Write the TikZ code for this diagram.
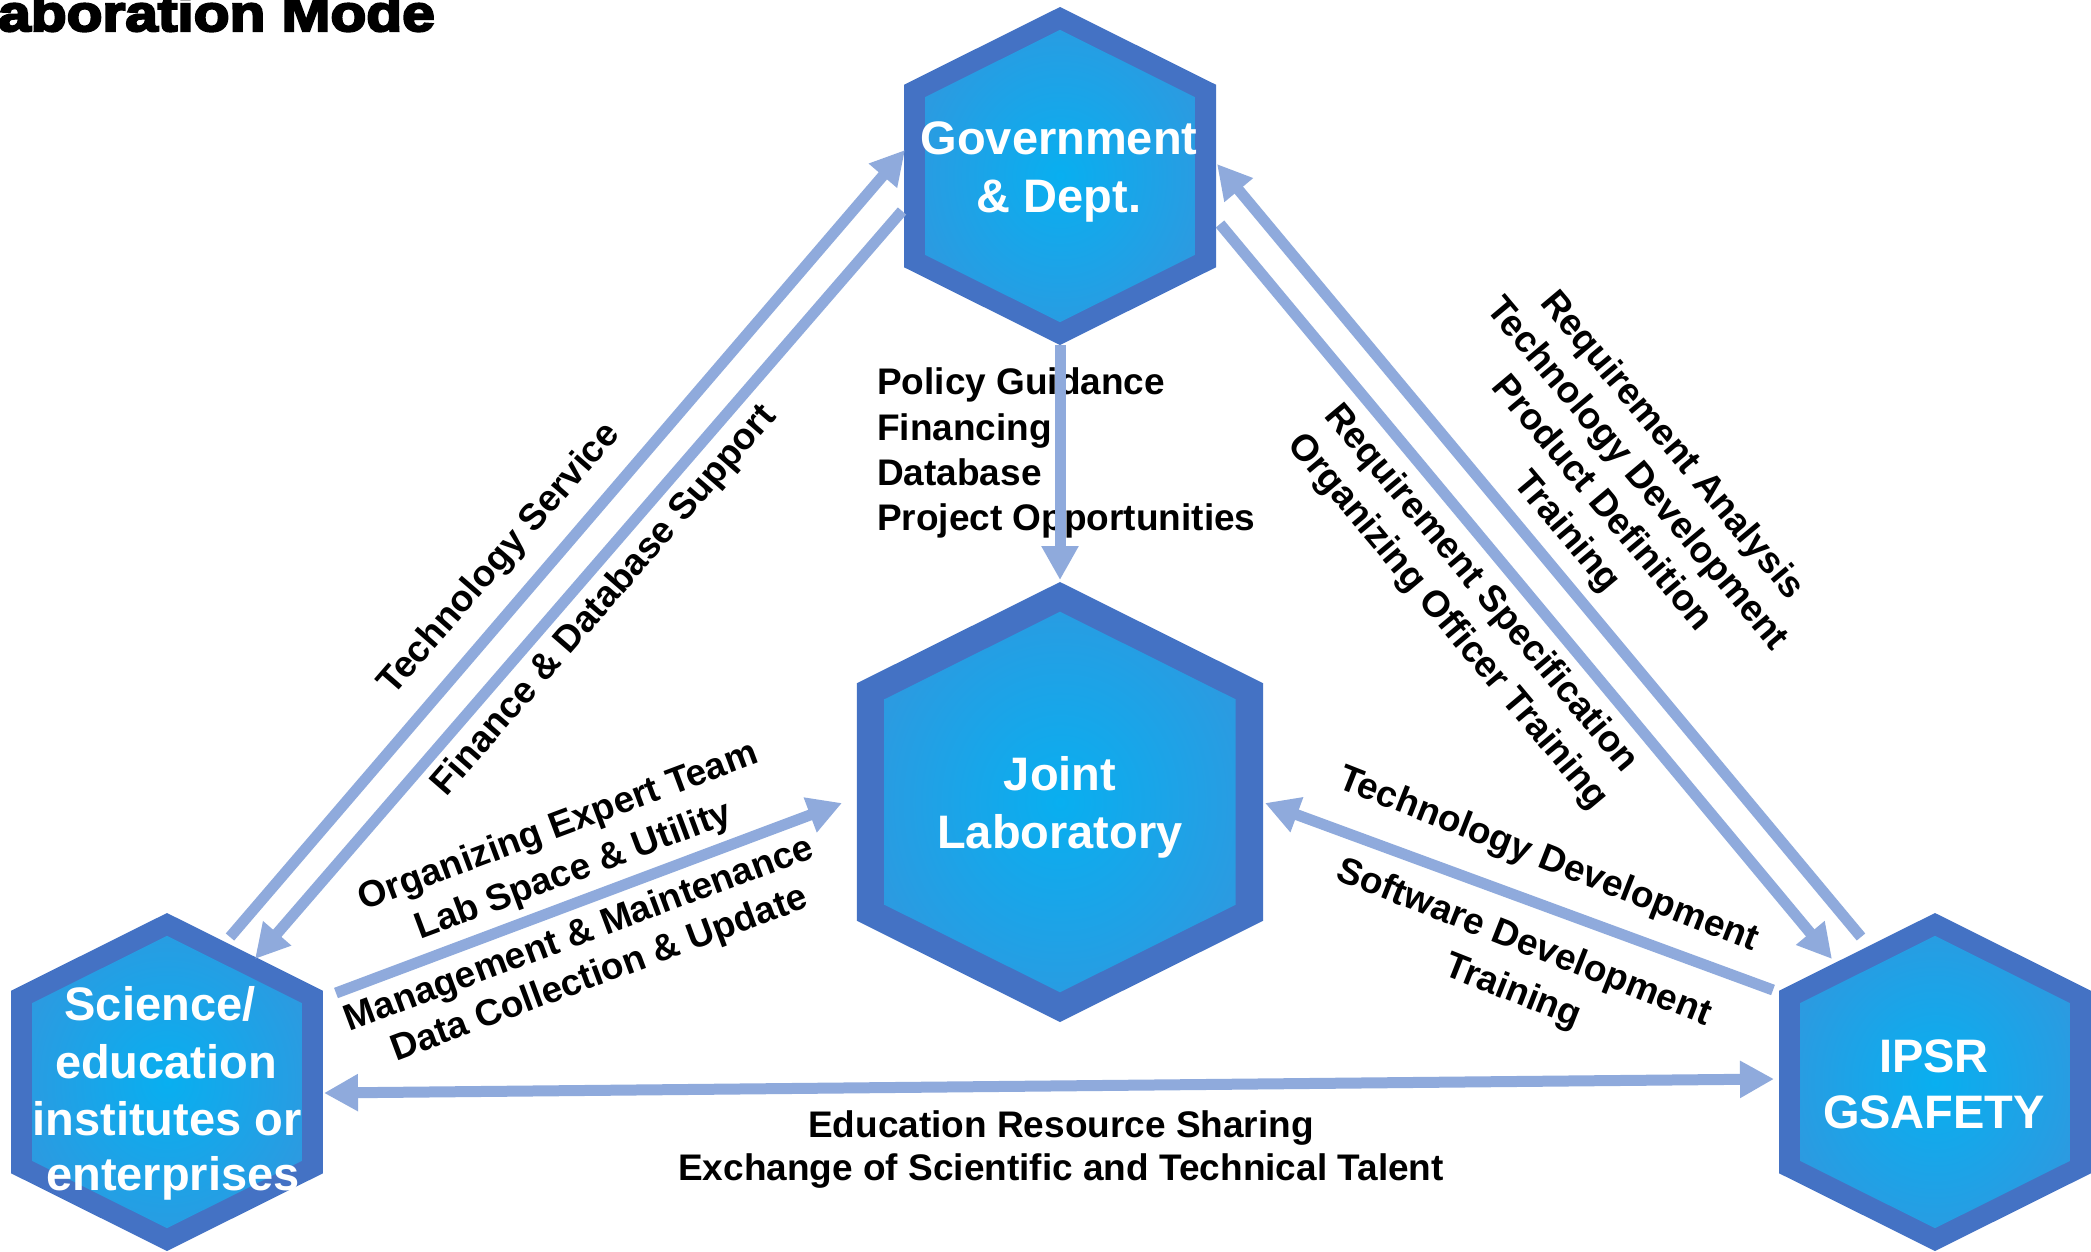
\documentclass[tikz,border=0pt]{standalone}
\usepackage{fontspec}
\setmainfont{Liberation Sans}
\newfontfamily\pTitleFont{Liberation Sans}[BoldFeatures={FakeBold=4.5,FakeStretch=1.15}]
\usetikzlibrary{arrows.meta}
\definecolor{pRim}{HTML}{4472C4}
\definecolor{pGlowIn}{HTML}{08AFF0}
\definecolor{pGlowOut}{HTML}{488AD4}
\definecolor{pFlowBlue}{HTML}{8FAADC}
\pgfdeclareradialshading{pGlow}{\pgfpoint{0bp}{0bp}}{color(0bp)=(pGlowIn); color(50bp)=(pGlowOut)}
\newcommand{\pHexCell}[3]{\begin{scope}[shift={(#1,#2)},scale=#3]
\fill[pRim] (0,-1) -- (0.923,-0.54) -- (0.923,0.54) -- (0,1) -- (-0.923,0.54) -- (-0.923,-0.54) -- cycle;
\shade[shading=pGlow] (0,-0.865) -- (0.798,-0.467) -- (0.798,0.467) -- (0,0.865) -- (-0.798,0.467) -- (-0.798,-0.467) -- cycle;
\end{scope}}
\tikzset{
pCellText/.style={anchor=base, inner sep=0pt, text=white, font=\bfseries\fontsize{47}{58}\selectfont},
pFlowText/.style={anchor=base, inner sep=0pt, font=\bfseries\fontsize{37}{45}\selectfont},
pFlow/.style={draw=pFlowBlue, line width=11pt, -{Triangle[length=34pt,width=35pt]}},
pFlowBoth/.style={pFlow, {Triangle[length=34pt,width=35pt]}-{Triangle[length=34pt,width=35pt]}}
}
\begin{document}
\begin{tikzpicture}[x=1pt,y=-1pt]
\useasboundingbox (0,0) rectangle (2091,1251);
\fill[white] (0,0) rectangle (2091,1251);
\node[anchor=base west, inner sep=0pt, font=\pTitleFont\bfseries\fontsize{51}{51}\selectfont] (title) at (-2,31) {aboration Mode};
\pHexCell{1060}{176}{169}
\pHexCell{1060}{802}{220}
\pHexCell{167}{1082}{169}
\pHexCell{1935}{1082}{169}
\node[pCellText] (govL1) at (1059,154) {Government};
\node[pCellText] (govL2) at (1059,212) {\& Dept.};
\node[pCellText] (labL1) at (1060,790) {Joint};
\node[pCellText] (labL2) at (1060,848) {Laboratory};
\node[pCellText] (sciL1) at (160,1020) {Science/};
\node[pCellText] (sciL2) at (166,1078) {education};
\node[pCellText] (sciL3) at (167,1135) {institutes or};
\node[pCellText] (sciL4) at (173,1190) {enterprises};
\node[pCellText] (ipsrL1) at (1934,1072) {IPSR};
\node[pCellText] (ipsrL2) at (1934,1128) {GSAFETY};
\node[pFlowText, anchor=base west] (polL1) at (877,394) {Policy Guidance};
\node[pFlowText, anchor=base west] (polL2) at (877,440) {Financing};
\node[pFlowText, anchor=base west] (polL3) at (877,485) {Database};
\node[pFlowText, anchor=base west] (polL4) at (877,530) {Project Opportunities};
\node[pFlowText] (eduL1) at (1061,1137) {Education Resource Sharing};
\node[pFlowText] (eduL2) at (1061,1180) {Exchange of Scientific and Technical Talent};
\node[pFlowText, rotate=49] (tsL1) at (507,566) {Technology Service};
\node[pFlowText, rotate=49] (fdL1) at (612,607) {Finance \& Database Support};
\node[pFlowText, rotate=20.5] (expL1) at (562,836.5) {Organizing Expert Team};
\node[pFlowText, rotate=20.5] (expL2) at (577,881) {Lab Space \& Utility};
\node[pFlowText, rotate=20.5] (mgtL1) at (583,944) {Management \& Maintenance};
\node[pFlowText, rotate=20.5] (mgtL2) at (603,984) {Data Collection \& Update};
\node[pFlowText, rotate=-50] (raL1) at (1664,452) {Requirement Analysis};
\node[pFlowText, rotate=-50] (raL2) at (1629,481) {Technology Development};
\node[pFlowText, rotate=-50] (raL3) at (1594,510) {Product Definition};
\node[pFlowText, rotate=-50] (raL4) at (1559,539) {Training};
\node[pFlowText, rotate=-50] (rsL1) at (1473.5,595) {Requirement Specification};
\node[pFlowText, rotate=-50] (rsL2) at (1440,628) {Organizing Officer Training};
\node[pFlowText, rotate=-21.5] (tdL1) at (1544.5,869.5) {Technology Development};
\node[pFlowText, rotate=-21.5] (swL1) at (1520,952.5) {Software Development};
\node[pFlowText, rotate=-21.5] (swL2) at (1509,1001) {Training};
\coordinate (govBot) at (1060,345);
\coordinate (labTop) at (1060,580);
\coordinate (sciTS) at (230,937);
\coordinate (govTS) at (905,150);
\coordinate (govFD) at (902,211);
\coordinate (sciFD) at (255,959);
\coordinate (sciLab) at (336,993);
\coordinate (labSci) at (842,803);
\coordinate (ipsrLab) at (1773,990);
\coordinate (labIpsr) at (1265,803);
\coordinate (govRS) at (1220,224);
\coordinate (ipsrRS) at (1832,959);
\coordinate (ipsrRA) at (1861,937);
\coordinate (govRA) at (1217,164);
\coordinate (sciEdu) at (324,1093);
\coordinate (ipsrEdu) at (1774,1079);
\draw[pFlow] (govBot) -- (labTop);
\draw[pFlow] (sciTS) -- (govTS);
\draw[pFlow] (govFD) -- (sciFD);
\draw[pFlow] (sciLab) -- (labSci);
\draw[pFlow] (ipsrLab) -- (labIpsr);
\draw[pFlow] (govRS) -- (ipsrRS);
\draw[pFlow] (ipsrRA) -- (govRA);
\draw[pFlowBoth] (sciEdu) -- (ipsrEdu);
\end{tikzpicture}
\end{document}
